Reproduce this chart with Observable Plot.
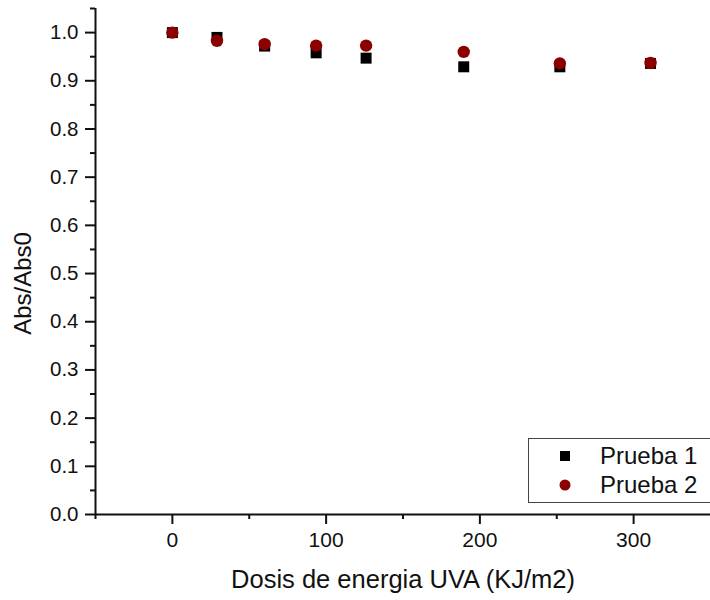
<!DOCTYPE html>
<html>
<head>
<meta charset="utf-8">
<script src="https://cdn.jsdelivr.net/npm/d3@7"></script>
<script src="https://cdn.jsdelivr.net/npm/@observablehq/plot@0.6"></script>
<style>
  html, body { margin: 0; padding: 0; background: #fff; }
  #wrap { position: relative; width: 710px; height: 600px; font-family: "Liberation Sans", Arial, sans-serif; }
  #legend { position: absolute; left: 528px; top: 438px; width: 190px; height: 65px; border: 1px solid #444; background: #fff; box-sizing: border-box; }
  .row { position: absolute; left: 0; display: flex; align-items: center; font-size: 24px; color: #111; }
  .row svg { margin-left: 30px; margin-right: 29px; }
</style>
</head>
<body>
<div id="wrap"></div>
<script>
// Data
const doses = [0, 29, 60, 93.5, 126, 189.5, 252, 311];
const prueba1 = [1.000, 0.990, 0.972, 0.958, 0.947, 0.929, 0.929, 0.936];
const prueba2 = [1.000, 0.983, 0.976, 0.973, 0.973, 0.960, 0.936, 0.937];
const seriesNames = ["Prueba 1", "Prueba 2"];
const xMajor = [0, 100, 200, 300];
const xMinor = [-50, 50, 150, 250];
const yMajor = [0, 0.1, 0.2, 0.3, 0.4, 0.5, 0.6, 0.7, 0.8, 0.9, 1.0];
const yMinor = [0.05, 0.15, 0.25, 0.35, 0.45, 0.55, 0.65, 0.75, 0.85, 0.95, 1.05];
const xTitle = "Dosis de energia UVA (KJ/m2)";
const yTitle = "Abs/Abs0";
const colors = ["#000000", "#8b0000"];

const rows1 = doses.map((d, i) => ({x: d, y: prueba1[i]}));
const rows2 = doses.map((d, i) => ({x: d, y: prueba2[i]}));

const chart = Plot.plot({
  width: 710,
  height: 600,
  marginLeft: 95,
  marginRight: 0,
  marginTop: 8,
  marginBottom: 86,
  style: {fontFamily: "Liberation Sans, Arial, sans-serif", fontSize: "20px", color: "#111", background: "#fff"},
  x: {domain: [-50, 350]},
  y: {domain: [0, 1.05]},
  marks: [
    Plot.axisX({ticks: xMajor, tickSize: 10, tickPadding: 8, strokeWidth: 2, fontSize: 21, label: null}),
    Plot.axisX({ticks: xMinor, tickSize: 5, strokeWidth: 2, tickFormat: () => "", label: null}),
    Plot.axisY({ticks: yMajor, tickSize: 10, tickPadding: 7, strokeWidth: 2, fontSize: 20.5, tickFormat: d3.format(".1f"), label: null}),
    Plot.axisY({ticks: yMinor, tickSize: 5, strokeWidth: 2, tickFormat: () => "", label: null}),
    Plot.ruleX([-50], {stroke: "#111", strokeWidth: 2}),
    Plot.ruleY([0], {stroke: "#111", strokeWidth: 2}),
    Plot.dot(rows1, {x: "x", y: "y", symbol: "square", r: 6.2, fill: colors[0], stroke: "none"}),
    Plot.dot(rows2, {x: "x", y: "y", symbol: "circle", r: 6.2, fill: colors[1], stroke: "none"}),
    Plot.text([xTitle], {frameAnchor: "bottom", lineAnchor: "middle", textAnchor: "middle", dy: 65, fontSize: 25.5, fill: "#111"}),
    Plot.text([yTitle], {frameAnchor: "left", lineAnchor: "middle", textAnchor: "middle", rotate: -90, dx: -72, dy: 22, fontSize: 24, fill: "#111"})
  ]
});

const wrap = document.getElementById("wrap");
wrap.appendChild(chart);

const legend = document.createElement("div");
legend.id = "legend";
const symbols = [
  '<svg width="12" height="12"><rect x="1" y="1" width="10" height="10" fill="' + colors[0] + '"/></svg>',
  '<svg width="12" height="12"><circle cx="6" cy="6" r="5.5" fill="' + colors[1] + '"/></svg>'
];
seriesNames.forEach((name, i) => {
  const row = document.createElement("div");
  row.className = "row";
  row.style.top = (i === 0 ? 3 : 32) + "px";
  row.innerHTML = symbols[i] + "<span>" + name + "</span>";
  legend.appendChild(row);
});
wrap.appendChild(legend);
</script>
</body>
</html>
